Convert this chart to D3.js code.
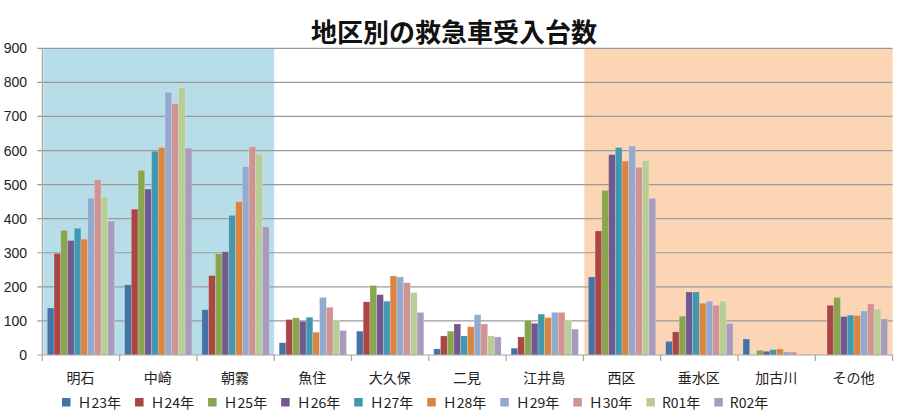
<!DOCTYPE html>
<html><head><meta charset="utf-8">
<script src="https://cdn.jsdelivr.net/npm/d3@7"></script>
<style>
html,body{margin:0;padding:0;background:#fff;}
svg{display:block;font-family:"Noto Sans CJK JP","Noto Sans",sans-serif;}
</style></head>
<body>
<svg id="chart" width="908" height="420"></svg>
<script>
// ---- data ----
const title = "地区別の救急車受入台数";
const categories = ["明石","中崎","朝霧","魚住","大久保","二見","江井島","西区","垂水区","加古川","その他"];
const seriesNames = ["Ｈ23年","Ｈ24年","Ｈ25年","Ｈ26年","Ｈ27年","Ｈ28年","Ｈ29年","Ｈ30年","R01年","R02年"];
const seriesColors = ["#4572A7","#AA4643","#89A54E","#71588F","#4198AF","#DB843D","#93A9CF","#D19392","#B9CD96","#A99BBD"];
const yTicks = [0,100,200,300,400,500,600,700,800,900];

const H23 = [138, 206, 133, 36,  70, 18,  20, 229,  40, 47,   0];
const H24 = [298, 428, 233, 104, 156, 56, 53, 364,  68,  0, 146];
const H25 = [366, 542, 297, 109, 204, 70, 102, 483, 114, 14, 169];
const H26 = [336, 487, 303, 99,  177, 91, 93,  588, 185, 11, 113];
const H27 = [372, 598, 410, 111, 158, 56, 120, 609, 185, 16, 117];
const H28 = [340, 609, 450, 67,  232, 83, 110, 569, 152, 18, 116];
const H29 = [460, 771, 553, 169, 229, 118, 125, 613, 158, 9, 129];
const H30 = [515, 738, 611, 140, 212, 91, 125, 551, 146, 9, 150];
const R01 = [464, 784, 590, 102, 183, 56, 102, 571, 158, 1, 135];
const R02 = [393, 607, 376, 72,  125, 53, 76,  460, 93,  2, 106];
const seriesValues = [H23,H24,H25,H26,H27,H28,H29,H30,R01,R02];

// shaded category groups
const shadeGroups = [
  {from:"明石", to:"朝霧", color:"#B7DEE8"},
  {from:"西区", to:"その他", color:"#FCD5B5"}
];

// ---- layout ----
const svg = d3.select("#chart");
const mLeft = 42.3, mRight = 892.6, mTop = 48.3, mBottom = 355;

const x0 = d3.scaleBand().domain(categories).range([mLeft, mRight]).padding(0);
const x1 = d3.scaleBand().domain(seriesNames).range([0, x0.bandwidth()]).paddingInner(0).paddingOuter(0.74);
const y = d3.scaleLinear().domain([0, 900]).range([mBottom, mTop]);

// background shading
shadeGroups.forEach(g => {
  const xa = x0(g.from) + 1, xb = x0(g.to) + x0.bandwidth();
  svg.append("rect").attr("x", xa).attr("y", mTop).attr("width", xb - xa).attr("height", mBottom - mTop)
     .attr("fill", g.color);
});

// gridlines
svg.append("g").selectAll("line").data(yTicks.filter(d => d > 0)).join("line")
  .attr("x1", mLeft - 5).attr("x2", mRight)
  .attr("y1", d => y(d)).attr("y2", d => y(d))
  .attr("stroke", "#9a9a9a").attr("stroke-width", 1.2);

// y tick labels
svg.append("g").selectAll("text").data(yTicks).join("text")
  .attr("x", 27).attr("y", d => y(d) + 5)
  .attr("text-anchor", "end")
  .attr("font-family", "'Liberation Sans', Arial, sans-serif")
  .attr("font-size", 14).attr("fill", "#222")
  .text(d => d);

// bars
const groups = svg.append("g").selectAll("g").data(categories).join("g")
  .attr("transform", c => `translate(${x0(c)},0)`);
groups.selectAll("rect").data((c, ci) => seriesNames.map((s, si) => ({s, si, v: seriesValues[si][ci]})))
  .join("rect")
  .attr("x", d => x1(d.s))
  .attr("width", x1.bandwidth())
  .attr("y", d => y(d.v))
  .attr("height", d => Math.max(0, y(0) - y(d.v)))
  .attr("fill", d => seriesColors[d.si])
  .attr("stroke", "rgba(255,255,255,0.35)")
  .attr("stroke-width", 0.6);

// axes lines
svg.append("line").attr("x1", mLeft).attr("x2", mLeft).attr("y1", mTop).attr("y2", mBottom)
  .attr("stroke", "#a6a6a6").attr("stroke-width", 1.2);
svg.append("line").attr("x1", mLeft - 5).attr("x2", mRight).attr("y1", mBottom).attr("y2", mBottom)
  .attr("stroke", "#a6a6a6").attr("stroke-width", 1.2);
const boundaries = categories.map(c => x0(c)).concat([mRight]);
svg.append("g").selectAll("line").data(boundaries).join("line")
  .attr("x1", d => d).attr("x2", d => d).attr("y1", mBottom).attr("y2", mBottom + 6)
  .attr("stroke", "#a6a6a6").attr("stroke-width", 1.2);

// category labels
svg.append("g").selectAll("text").data(categories).join("text")
  .attr("x", c => x0(c) + x0.bandwidth() / 2 - 0.5)
  .attr("y", 383)
  .attr("text-anchor", "middle")
  .attr("font-size", 14).attr("fill", "#222")
  .text(c => c);

// title
svg.append("text").attr("x", 454).attr("y", 42)
  .attr("text-anchor", "middle").attr("font-size", 26).attr("font-weight", "bold")
  .attr("fill", "#111").text(title);

// legend
let lx = 62;
const lg = svg.append("g");
seriesNames.forEach((s, i) => {
  lg.append("rect").attr("x", lx).attr("y", 398).attr("width", 8.5).attr("height", 8.5).attr("fill", seriesColors[i]);
  const t = lg.append("text").attr("x", lx + 15.5).attr("y", 407.5)
    .attr("font-size", 14).attr("fill", "#222").text(s);
  lx += 15.5 + t.node().getComputedTextLength() + 14;
});
</script>
</body></html>
